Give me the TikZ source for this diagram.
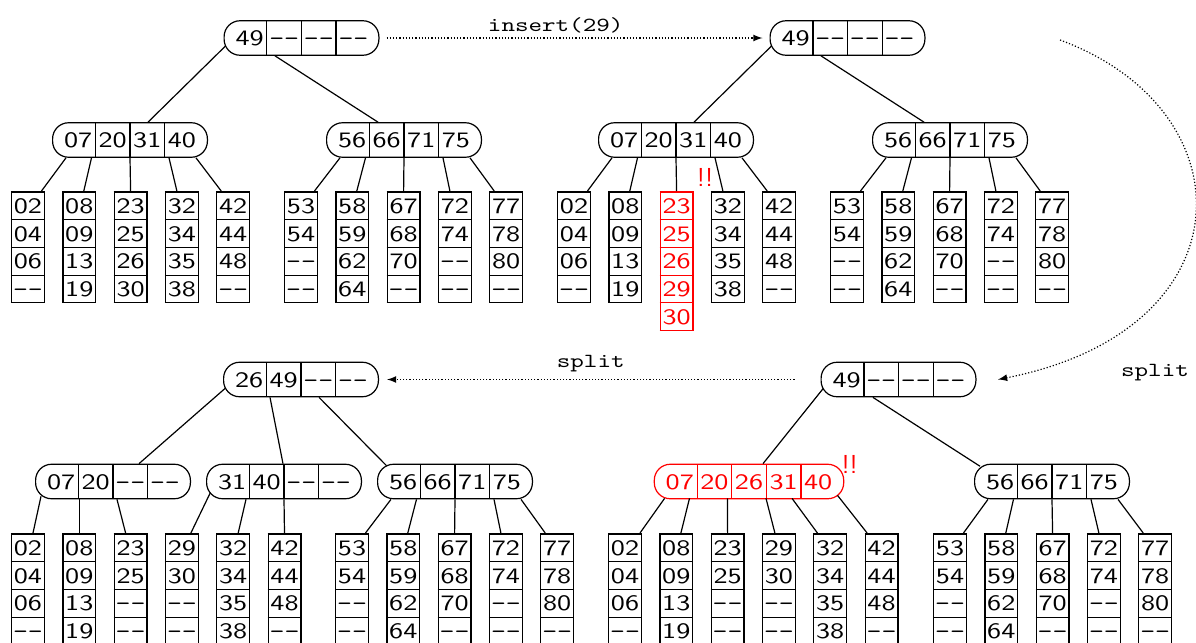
\documentclass[tikz,border=0pt]{standalone}
\usepackage{fontspec}
\usepackage{array}
\usetikzlibrary{arrows}

\newfontfamily\keyfont{lmsans10-regular.otf}[FakeStretch=1.28]
\newfontfamily\lblfont{lmmono10-regular.otf}[FakeStretch=1.29]

\setlength{\tabcolsep}{0pt}
\setlength{\arrayrulewidth}{0.6pt}
\renewcommand{\arraystretch}{0}
\newcolumntype{K}{>{\rule[-4.875pt]{0pt}{17.25pt}}w{c}{16.7pt}}
\newcolumntype{L}{>{\rule[-2.875pt]{0pt}{13.25pt}}w{c}{15.8pt}}
\newcommand{\nok}{{\lblfont -{}-}}
\newcommand{\ikeys}[4]{\begin{tabular}{@{}K|K|K|K@{}}#1&#2&#3&#4\end{tabular}}
\newcommand{\ikeysv}[5]{\begin{tabular}{@{}K|K|K|K|K@{}}#1&#2&#3&#4&#5\end{tabular}}
\newcommand{\lkeys}[4]{\begin{tabular}{|L|}\hline #1\\\hline #2\\\hline #3\\\hline #4\\\hline\end{tabular}}
\newcommand{\lkeysv}[5]{\begin{tabular}{|L|}\hline #1\\\hline #2\\\hline #3\\\hline #4\\\hline #5\\\hline\end{tabular}}

\begin{document}
\begin{tikzpicture}[x=0.5pt, y=-0.5pt,
   inode/.style={draw, rounded corners=8pt, inner xsep=4.4pt, inner ysep=0pt, line width=0.6pt,
                 font=\keyfont\fontsize{11}{13}\selectfont},
   leaf/.style={inner sep=0pt, anchor=north, font=\keyfont\fontsize{11}{13}\selectfont},
   ptr/.style={line width=0.6pt},
   move/.style={densely dotted, line width=0.6pt, -latex},
   lbl/.style={font=\lblfont\fontsize{10}{12}\selectfont},
   bang/.style={red, font=\sffamily\fontsize{13}{15}\selectfont}]
   \useasboundingbox (0,0) rectangle (1196,643);

   % before: insert(29)
   \node[inode] (t1r) at (301.5,38) {\ikeys{49}{\nok}{\nok}{\nok}};
   \node[inode] (t1a) at (130,140) {\ikeys{07}{20}{31}{40}};
   \node[inode] (t1b) at (404,140) {\ikeys{56}{66}{71}{75}};
   \node[leaf] (t1l1) at (28,191) {\lkeys{02}{04}{06}{\nok}};
   \node[leaf] (t1l2) at (79.3,191) {\lkeys{08}{09}{13}{19}};
   \node[leaf] (t1l3) at (130.6,191) {\lkeys{23}{25}{26}{30}};
   \node[leaf] (t1l4) at (181.9,191) {\lkeys{32}{34}{35}{38}};
   \node[leaf] (t1l5) at (233.2,191) {\lkeys{42}{44}{48}{\nok}};
   \node[leaf] (t1l6) at (301,191) {\lkeys{53}{54}{\nok}{\nok}};
   \node[leaf] (t1l7) at (352.3,191) {\lkeys{58}{59}{62}{64}};
   \node[leaf] (t1l8) at (403.6,191) {\lkeys{67}{68}{70}{\nok}};
   \node[leaf] (t1l9) at (454.9,191) {\lkeys{72}{74}{\nok}{\nok}};
   \node[leaf] (t1l10) at (506.2,191) {\lkeys{77}{78}{80}{\nok}};

   % after insert: overfull leaf
   \node[inode] (t2r) at (847.5,38) {\ikeys{49}{\nok}{\nok}{\nok}};
   \node[inode] (t2a) at (676,140) {\ikeys{07}{20}{31}{40}};
   \node[inode] (t2b) at (950,140) {\ikeys{56}{66}{71}{75}};
   \node[leaf] (t2l1) at (574,191) {\lkeys{02}{04}{06}{\nok}};
   \node[leaf] (t2l2) at (625.3,191) {\lkeys{08}{09}{13}{19}};
   \node[leaf, red] (t2l3) at (676.6,191) {\lkeysv{23}{25}{26}{29}{30}};
   \node[leaf] (t2l4) at (727.9,191) {\lkeys{32}{34}{35}{38}};
   \node[leaf] (t2l5) at (779.2,191) {\lkeys{42}{44}{48}{\nok}};
   \node[leaf] (t2l6) at (847,191) {\lkeys{53}{54}{\nok}{\nok}};
   \node[leaf] (t2l7) at (898.3,191) {\lkeys{58}{59}{62}{64}};
   \node[leaf] (t2l8) at (949.6,191) {\lkeys{67}{68}{70}{\nok}};
   \node[leaf] (t2l9) at (1000.9,191) {\lkeys{72}{74}{\nok}{\nok}};
   \node[leaf] (t2l10) at (1052.2,191) {\lkeys{77}{78}{80}{\nok}};
   \node[bang] (w1) at (705,177.5) {!!};

   % first split: overfull inner node
   \node[inode] (t3r) at (898.5,379.5) {\ikeys{49}{\nok}{\nok}{\nok}};
   \node[inode, red] (t3a) at (749,481.5) {\ikeysv{07}{20}{26}{31}{40}};
   \node[inode] (t3b) at (1052,481.5) {\ikeys{56}{66}{71}{75}};
   \node[leaf] (t3l1) at (625,533) {\lkeys{02}{04}{06}{\nok}};
   \node[leaf] (t3l2) at (676.3,533) {\lkeys{08}{09}{13}{19}};
   \node[leaf] (t3l3) at (727.6,533) {\lkeys{23}{25}{\nok}{\nok}};
   \node[leaf] (t3l4) at (778.9,533) {\lkeys{29}{30}{\nok}{\nok}};
   \node[leaf] (t3l5) at (830.2,533) {\lkeys{32}{34}{35}{38}};
   \node[leaf] (t3l6) at (881.5,533) {\lkeys{42}{44}{48}{\nok}};
   \node[leaf] (t3l7) at (950,533) {\lkeys{53}{54}{\nok}{\nok}};
   \node[leaf] (t3l8) at (1001.3,533) {\lkeys{58}{59}{62}{64}};
   \node[leaf] (t3l9) at (1052.6,533) {\lkeys{67}{68}{70}{\nok}};
   \node[leaf] (t3l10) at (1103.9,533) {\lkeys{72}{74}{\nok}{\nok}};
   \node[leaf] (t3l11) at (1155.2,533) {\lkeys{77}{78}{80}{\nok}};
   \node[bang] (w2) at (849.7,464) {!!};

   % second split: done
   \node[inode] (t4r) at (301,379.5) {\ikeys{26}{49}{\nok}{\nok}};
   \node[inode] (t4a) at (113,481.5) {\ikeys{07}{20}{\nok}{\nok}};
   \node[inode] (t4b) at (284,481.5) {\ikeys{31}{40}{\nok}{\nok}};
   \node[inode] (t4c) at (455,481.5) {\ikeys{56}{66}{71}{75}};
   \node[leaf] (t4l1) at (28,533) {\lkeys{02}{04}{06}{\nok}};
   \node[leaf] (t4l2) at (79.3,533) {\lkeys{08}{09}{13}{19}};
   \node[leaf] (t4l3) at (130.6,533) {\lkeys{23}{25}{\nok}{\nok}};
   \node[leaf] (t4l4) at (181.9,533) {\lkeys{29}{30}{\nok}{\nok}};
   \node[leaf] (t4l5) at (233.2,533) {\lkeys{32}{34}{35}{38}};
   \node[leaf] (t4l6) at (284.5,533) {\lkeys{42}{44}{48}{\nok}};
   \node[leaf] (t4l7) at (352,533) {\lkeys{53}{54}{\nok}{\nok}};
   \node[leaf] (t4l8) at (403.3,533) {\lkeys{58}{59}{62}{64}};
   \node[leaf] (t4l9) at (454.6,533) {\lkeys{67}{68}{70}{\nok}};
   \node[leaf] (t4l10) at (505.9,533) {\lkeys{72}{74}{\nok}{\nok}};
   \node[leaf] (t4l11) at (557.2,533) {\lkeys{77}{78}{80}{\nok}};

   % root pointers
   \draw[ptr] ([shift={(1pt,-4pt)}]t1r.west) -- ([xshift=9pt]t1a.north);
   \draw[ptr] ([xshift=-13.25pt]t1r.south) -- ([xshift=-13pt]t1b.north);
   \draw[ptr] ([shift={(1pt,-4pt)}]t2r.west) -- ([xshift=9pt]t2a.north);
   \draw[ptr] ([xshift=-13.25pt]t2r.south) -- ([xshift=-13pt]t2b.north);
   \draw[ptr] ([shift={(1.35pt,-4.5pt)}]t3r.west) -- ([xshift=7pt]t3a.north);
   \draw[ptr] ([xshift=-12.8pt]t3r.south) -- ([shift={(-36pt,-1.3pt)}]t3b.north);
   \draw[ptr] ([shift={(1pt,-4.5pt)}]t4r.west) -- ([xshift=13pt]t4a.north);
   \draw[ptr] ([xshift=-15.5pt]t4r.south) -- ([xshift=-0.5pt]t4b.north);
   \draw[ptr] ([xshift=9pt]t4r.south) -- ([shift={(-34.25pt,-1pt)}]t4c.north);

   % full inner nodes, five children
   \foreach \pa/\lf/\of in {t1a/t1l/0, t1b/t1l/5, t2a/t2l/0, t2b/t2l/5, t3b/t3l/6, t4c/t4l/6}
     \foreach \k/\st/\en in {1/-32/6.75, 2/-19.25/2.25, 3/0/0, 4/19.5/-2.5, 5/33/-6}
     {
       \pgfmathtruncatemacro\n{\k+\of}
       \draw[ptr] ([xshift=\st pt]\pa.south) -- ([xshift=\en pt]\lf\n.north);
     }

   % overfull inner node, six children
   \foreach \k/\st/\en in {1/-42.2/7.5, 2/-29.75/2.3, 3/-10.75/0, 4/8.5/-2, 5/21.5/-6.4}
     \draw[ptr] ([shift={(\st pt,0.5pt)}]t3a.south) -- ([xshift=\en pt]t3l\k.north);
   \draw[ptr] ([shift={(44.25pt,2pt)}]t3a.south) -- ([xshift=-7.2pt]t3l6.north);

   % half full inner nodes
   \draw[ptr] ([shift={(-36pt,1.5pt)}]t4a.south) -- ([xshift=2.5pt]t4l1.north);
   \draw[ptr] ([xshift=-16.85pt]t4a.south) -- (t4l2.north);
   \draw[ptr] ([xshift=2pt]t4a.south) -- ([xshift=-2.5pt]t4l3.north);
   \draw[ptr] ([shift={(-37pt,3pt)}]t4b.south) -- ([xshift=4.5pt]t4l4.north);
   \draw[ptr] ([xshift=-19pt]t4b.south) -- ([xshift=2.5pt]t4l5.north);
   \draw[ptr] (t4b.south) -- (t4l6.north);

   % steps
   \draw[move] ([xshift=3.5pt]t1r.east) -- node[lbl, above=-1pt, pos=0.45] (ins) {insert(29)} ([xshift=-3.5pt]t2r.west);
   \coordinate (cs) at (1060,40);
   \draw[move] (cs) .. controls (1250,110) and (1250,330) .. ([xshift=10.75pt]t3r.east);
   \node[lbl] (spl2) at (1155,373) {split};
   \draw[move] ([xshift=-13pt]t3r.west) -- node[lbl, above] (spl1) {split} ([xshift=4pt]t4r.east);
\end{tikzpicture}
\end{document}
